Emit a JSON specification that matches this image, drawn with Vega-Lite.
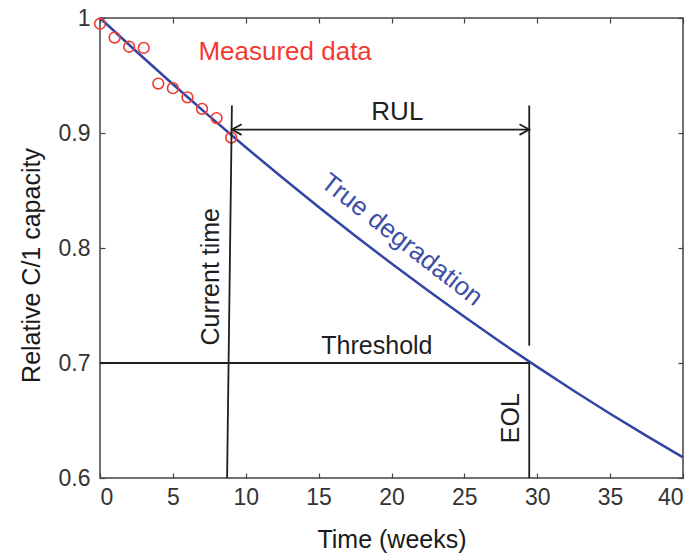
{
  "$schema": "https://vega.github.io/schema/vega-lite/v6.json",
  "autosize": "none",
  "width": 583,
  "height": 460,
  "padding": {"left": 100, "top": 18, "right": 12, "bottom": 81},
  "background": "white",
  "config": {
    "font": "Liberation Sans",
    "view": {"stroke": "#444", "strokeWidth": 1.5},
    "axis": {"grid": false, "labelFont": "Liberation Sans", "titleFont": "Liberation Sans", "labelColor": "#333333", "titleColor": "#1a1a1a", "titleFontWeight": "normal", "domain": false, "tickColor": "#444", "tickWidth": 1.2}
  },
  "datasets": {
    "curve": [
      {"t": 0, "c": 1.0}, {"t": 2.5, "c": 0.9709}, {"t": 5, "c": 0.9424}, {"t": 7.5, "c": 0.9147},
      {"t": 10, "c": 0.8876}, {"t": 12.5, "c": 0.8613}, {"t": 15, "c": 0.8357}, {"t": 17.5, "c": 0.8107},
      {"t": 20, "c": 0.7865}, {"t": 22.5, "c": 0.763}, {"t": 25, "c": 0.7402}, {"t": 27.5, "c": 0.718},
      {"t": 30, "c": 0.6966}, {"t": 32.5, "c": 0.6759}, {"t": 35, "c": 0.6559}, {"t": 37.5, "c": 0.6366},
      {"t": 40, "c": 0.618}
    ],
    "measured": [
      {"t": 0, "c": 0.995}, {"t": 1, "c": 0.983}, {"t": 2, "c": 0.975}, {"t": 3, "c": 0.974},
      {"t": 4, "c": 0.943}, {"t": 5, "c": 0.939}, {"t": 6, "c": 0.931}, {"t": 7, "c": 0.921},
      {"t": 8, "c": 0.913}, {"t": 9, "c": 0.896}
    ],
    "segments": [
      {"name": "current", "t": 8.72, "c": 0.6, "t2": 9.05, "c2": 0.924},
      {"name": "eol_upper", "t": 29.45, "c": 0.715, "t2": 29.45, "c2": 0.924},
      {"name": "eol_lower", "t": 29.45, "c": 0.6, "t2": 29.45, "c2": 0.7},
      {"name": "threshold", "t": 0, "c": 0.7, "t2": 29.45, "c2": 0.7},
      {"name": "rul", "t": 9.05, "c": 0.903, "t2": 29.45, "c2": 0.903}
    ],
    "arrowLeft": [{"t": 9.05, "c": 0.903}],
    "arrowRight": [{"t": 29.45, "c": 0.903}]
  },
  "resolve": {"axis": {"x": "independent", "y": "independent"}},
  "layer": [
    {
      "data": {"name": "curve"},
      "mark": {"type": "line", "color": "#3344a5", "strokeWidth": 2.5},
      "encoding": {
        "x": {"field": "t", "type": "quantitative", "scale": {"domain": [0, 40], "nice": false, "zero": false},
          "axis": {"orient": "bottom", "values": [0, 5, 10, 15, 20, 25, 30, 35, 40], "tickSize": -5, "labelPadding": 13, "labelFontSize": 23, "title": "Time (weeks)", "titleFontSize": 25, "titlePadding": 18}},
        "y": {"field": "c", "type": "quantitative", "scale": {"domain": [0.6, 1], "nice": false, "zero": false},
          "axis": {"orient": "left", "values": [0.6, 0.7, 0.8, 0.9, 1], "format": ".1~f", "tickSize": -5, "labelPadding": 15, "labelFontSize": 23, "title": "Relative C/1 capacity", "titleFontSize": 25, "titlePadding": 14, "titleY": 247}}
      }
    },
    {
      "data": {"name": "measured"},
      "mark": {"type": "point", "shape": "circle", "filled": false, "color": "#ee3b32", "strokeWidth": 1.6, "size": 115, "opacity": 1},
      "encoding": {
        "x": {"field": "t", "type": "quantitative", "axis": {"orient": "top", "values": [0, 5, 10, 15, 20, 25, 30, 35, 40], "labels": false, "tickSize": -5, "title": null}},
        "y": {"field": "c", "type": "quantitative", "axis": {"orient": "right", "values": [0.6, 0.7, 0.8, 0.9, 1], "labels": false, "tickSize": -5, "title": null}}
      }
    },
    {
      "data": {"name": "segments"},
      "mark": {"type": "rule", "color": "#1e1e1e", "strokeWidth": 1.8},
      "encoding": {
        "x": {"field": "t", "type": "quantitative", "axis": null},
        "y": {"field": "c", "type": "quantitative", "axis": null},
        "x2": {"field": "t2"},
        "y2": {"field": "c2"}
      }
    },
    {
      "data": {"name": "arrowLeft"},
      "mark": {"type": "point", "shape": "M1,-0.55L0,0L1,0.55", "filled": false, "color": "#1e1e1e", "strokeWidth": 1.8, "size": 380, "opacity": 1},
      "encoding": {
        "x": {"field": "t", "type": "quantitative", "axis": null},
        "y": {"field": "c", "type": "quantitative", "axis": null}
      }
    },
    {
      "data": {"name": "arrowRight"},
      "mark": {"type": "point", "shape": "M-1,-0.55L0,0L-1,0.55", "filled": false, "color": "#1e1e1e", "strokeWidth": 1.8, "size": 380, "opacity": 1},
      "encoding": {
        "x": {"field": "t", "type": "quantitative", "axis": null},
        "y": {"field": "c", "type": "quantitative", "axis": null}
      }
    },
    {
      "data": {"values": [{"t": 12.7, "c": 0.9704, "label": "Measured data"}]},
      "mark": {"type": "text", "color": "#f03a30", "fontSize": 26, "align": "center", "baseline": "middle"},
      "encoding": {"x": {"field": "t", "type": "quantitative", "axis": null}, "y": {"field": "c", "type": "quantitative", "axis": null}, "text": {"field": "label"}}
    },
    {
      "data": {"values": [{"t": 20.4, "c": 0.918, "label": "RUL"}]},
      "mark": {"type": "text", "color": "#1e1e1e", "fontSize": 26, "align": "center", "baseline": "middle"},
      "encoding": {"x": {"field": "t", "type": "quantitative", "axis": null}, "y": {"field": "c", "type": "quantitative", "axis": null}, "text": {"field": "label"}}
    },
    {
      "data": {"values": [{"t": 20.7, "c": 0.807, "label": "True degradation"}]},
      "mark": {"type": "text", "color": "#3f4fa8", "fontSize": 26, "align": "center", "baseline": "middle", "angle": 38},
      "encoding": {"x": {"field": "t", "type": "quantitative", "axis": null}, "y": {"field": "c", "type": "quantitative", "axis": null}, "text": {"field": "label"}}
    },
    {
      "data": {"values": [{"t": 7.6, "c": 0.775, "label": "Current time"}]},
      "mark": {"type": "text", "color": "#1e1e1e", "fontSize": 25, "align": "center", "baseline": "middle", "angle": 270},
      "encoding": {"x": {"field": "t", "type": "quantitative", "axis": null}, "y": {"field": "c", "type": "quantitative", "axis": null}, "text": {"field": "label"}}
    },
    {
      "data": {"values": [{"t": 19.0, "c": 0.7148, "label": "Threshold"}]},
      "mark": {"type": "text", "color": "#1e1e1e", "fontSize": 25, "align": "center", "baseline": "middle"},
      "encoding": {"x": {"field": "t", "type": "quantitative", "axis": null}, "y": {"field": "c", "type": "quantitative", "axis": null}, "text": {"field": "label"}}
    },
    {
      "data": {"values": [{"t": 28.2, "c": 0.652, "label": "EOL"}]},
      "mark": {"type": "text", "color": "#1e1e1e", "fontSize": 25, "align": "center", "baseline": "middle", "angle": 270},
      "encoding": {"x": {"field": "t", "type": "quantitative", "axis": null}, "y": {"field": "c", "type": "quantitative", "axis": null}, "text": {"field": "label"}}
    }
  ]
}
